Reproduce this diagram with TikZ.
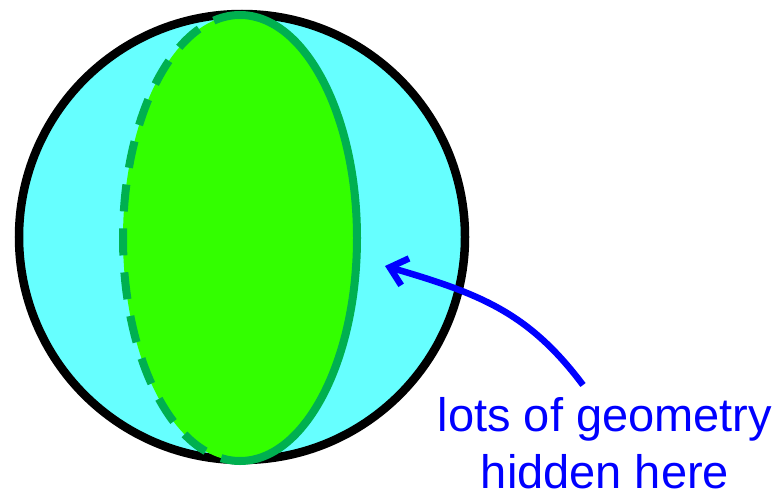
\documentclass[tikz,border=0pt]{standalone}
\usepackage{fontspec}
\setmainfont{Liberation Sans}
\usetikzlibrary{arrows.meta}

\definecolor{ballcyan}{HTML}{66FFFF}
\definecolor{slicegreen}{HTML}{33FF00}
\definecolor{rimgreen}{HTML}{00B050}

\begin{document}
\begin{tikzpicture}[
    x=1pt, y=-1pt,
    >={Straight Barb[length=16pt, width=28pt]},
    ball/.style={draw=black, line width=8.5pt, fill=ballcyan},
    slice/.style={fill=slicegreen},
    rim/.style={draw=rimgreen, line width=8pt},
    hidden rim/.style={rim, dash pattern=on 27pt off 17pt},
    note/.style={text=blue, align=center, inner sep=0pt, font=\fontsize{47}{57}\selectfont},
    pointer/.style={->, draw=blue, line width=6.5pt}
]
\useasboundingbox (0,0) rectangle (778,492);

% sphere and the cut through it
\coordinate (centre) at (242,237);
\coordinate (mid) at (240,238);
\draw[ball] (centre) circle[radius=223pt];
\fill[slice] (mid) ellipse[x radius=117pt, y radius=223pt];
\draw[hidden rim] ([yshift=223pt]mid) arc[start angle=90, end angle=270, x radius=117pt, y radius=223pt];
\draw[rim] ([yshift=-223pt]mid) arc[start angle=-90, end angle=90, x radius=117pt, y radius=223pt];

% label and pointer
\node[note, anchor=north] (hidden) at (605,397) {lots of geometry\\hidden here};
\coordinate (tip) at (385,266);
\draw[pointer] ([xshift=-22pt,yshift=12pt]hidden.north) .. controls (529,313) and (481,294) .. (tip);
\end{tikzpicture}
\end{document}
